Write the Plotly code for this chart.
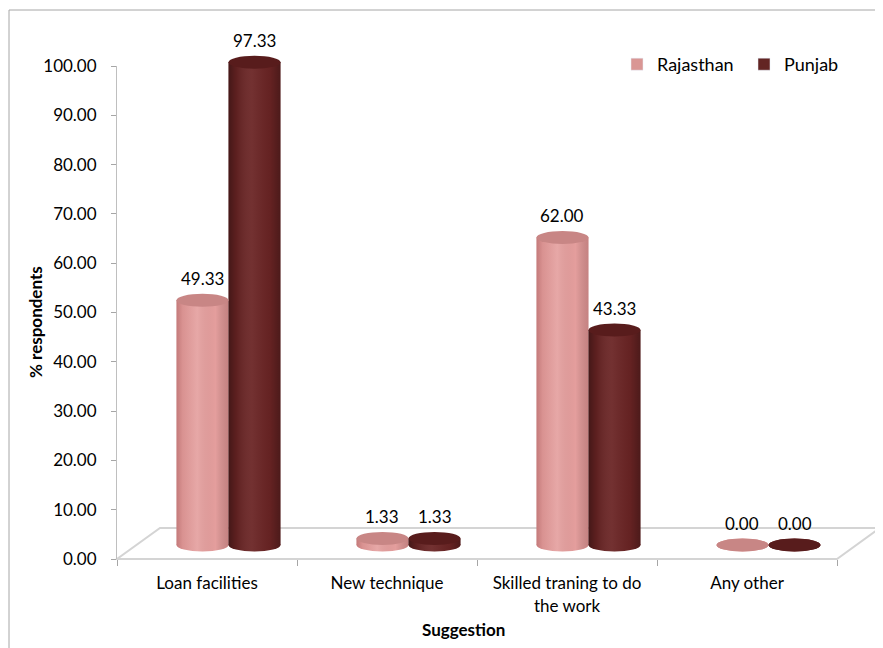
import math
import plotly.graph_objects as go

categories = ["Loan facilities", "New technique", "Skilled traning to do<br>the work", "Any other"]
series_names = ["Rajasthan", "Punjab"]
rajasthan = [49.33, 1.33, 62.00, 0.00]
punjab = [97.33, 1.33, 43.33, 0.00]
y_ticks = [0, 10, 20, 30, 40, 50, 60, 70, 80, 90, 100]

body_colors = ["#E49E9D", "#6A2424"]
top_colors = ["#C88685", "#581C1C"]
legend_colors = ["#D99694", "#632523"]
shade_scales = [
    [[0, "rgba(120,40,40,0.30)"], [0.12, "rgba(120,40,40,0.10)"], [0.4, "rgba(255,255,255,0.10)"],
     [0.75, "rgba(0,0,0,0.0)"], [1, "rgba(90,30,30,0.22)"]],
    [[0, "rgba(0,0,0,0.35)"], [0.15, "rgba(0,0,0,0.12)"], [0.45, "rgba(255,255,255,0.06)"],
     [0.8, "rgba(0,0,0,0.05)"], [1, "rgba(0,0,0,0.28)"]],
]

OFF = 8  # default page margin of the html body
W, H = 883 - OFF, 648 - OFF
# targets in screen pixels
SX_LEFT, SX_RIGHT, SY_TOP, SY_BOTTOM, SY_100 = 117, 837, 20, 559, 66
ML = SX_LEFT - OFF
MR = W - (SX_RIGHT - OFF)
MT = SY_TOP - OFF
MB = H - (SY_BOTTOM - OFF)
plot_w = SX_RIGHT - SX_LEFT
plot_h = SY_BOTTOM - SY_TOP
px_per_unit = 4.96
cat_px = plot_w / len(categories)
depth_dx, depth_dy = 43, 31
bar_shift_x = depth_dx / 2
bar_base_sy = SY_BOTTOM - 14
ydom_top = (SY_BOTTOM - SY_100) / plot_h


def px(sx):
    return (sx - SX_LEFT) / plot_w


def py(sy):
    return (SY_BOTTOM - sy) / plot_h


bar_w = 0.289
idx = list(range(len(categories)))
fig = go.Figure()

# invisible trace to build the category axis
fig.add_trace(go.Scatter(x=categories, y=[0] * len(categories), mode="markers",
                         marker=dict(opacity=0), showlegend=False, hoverinfo="skip",
                         xaxis="x", yaxis="y"))

shapes = []
annotations = []
half_e = 6.5 / px_per_unit
for s, (name, vals) in enumerate(zip(series_names, [rajasthan, punjab])):
    fig.add_trace(go.Bar(x=idx, y=vals, name=name, xaxis="x2", yaxis="y2",
                         marker=dict(color=body_colors[s], line=dict(width=0)),
                         width=bar_w, offset=(s - 1) * bar_w,
                         showlegend=False, hoverinfo="skip"))
    fig.add_trace(go.Bar(x=[None], y=[None], name=name, xaxis="x2", yaxis="y2",
                         marker=dict(color=legend_colors[s])))

for s, vals in enumerate([rajasthan, punjab]):
    for i, v in enumerate(vals):
        cx = i + (s - 0.5) * bar_w
        x0, x1 = cx - bar_w / 2, cx + bar_w / 2
        # bottom ellipse (under the bar)
        shapes.append(dict(type="circle", xref="x2", yref="y2", x0=x0, x1=x1,
                           y0=-half_e, y1=half_e, fillcolor=body_colors[s],
                           line=dict(width=0), layer="below"))
        # shading overlay: body + lower half of the base ellipse
        n = 30
        xs, ys = [], []
        for k in range(n + 1):
            t = math.pi * k / n
            xs.append(cx - bar_w / 2 * math.cos(t))
            ys.append(-half_e * math.sin(t))
        xs += [x1, x0, x0]
        ys += [v, v, 0]
        fig.add_trace(go.Scatter(x=xs, y=ys, mode="lines", line=dict(width=0),
                                 fill="toself",
                                 fillgradient=dict(type="horizontal", colorscale=shade_scales[s],
                                                   start=x0, stop=x1),
                                 xaxis="x2", yaxis="y2", showlegend=False, hoverinfo="skip"))
        # top ellipse
        shapes.append(dict(type="circle", xref="x2", yref="y2", x0=x0, x1=x1,
                           y0=v - half_e, y1=v + half_e, fillcolor=top_colors[s],
                           line=dict(width=0), layer="above"))
        annotations.append(dict(x=cx, y=v, xref="x2", yref="y2", text=f"{v:.2f}",
                                showarrow=False, yshift=22, xanchor="center", yanchor="middle",
                                font=dict(family="Lato", size=17, color="#000000")))

# floor (decorative parallelogram)
fx = depth_dx / plot_w
fy = depth_dy / plot_h
shapes.insert(0, dict(type="path", xref="paper", yref="paper",
                      path=f"M 0 0 L 1 0 L {1 + fx} {fy} L {fx} {fy} Z",
                      line=dict(color="#D4D4D4", width=2), fillcolor="rgba(0,0,0,0)",
                      layer="below"))
# chart border
shapes.insert(0, dict(type="rect", xref="paper", yref="paper",
                      x0=px(9), x1=px(900), y0=py(660), y1=py(10),
                      line=dict(color="#A6A6A6", width=1), fillcolor="rgba(0,0,0,0)",
                      layer="below"))

annotations.append(dict(x=px(35), y=py(322), xref="paper", yref="paper",
                        xanchor="center", yanchor="middle",
                        text="<b>% respondents</b>", textangle=-90, showarrow=False,
                        font=dict(family="Lato", size=17, color="#000000")))
annotations.append(dict(x=px(463), y=py(629), xref="paper", yref="paper",
                        xanchor="center", yanchor="middle",
                        text="<b>Suggestion</b>", showarrow=False,
                        font=dict(family="Lato", size=17, color="#000000")))

y2_low = -(SY_BOTTOM - bar_base_sy) / px_per_unit
y2_high = y2_low + plot_h / px_per_unit
x2_low = -0.5 - bar_shift_x / cat_px

fig.update_layout(
    width=W, height=H,
    margin=dict(l=ML, r=MR, t=MT, b=MB, autoexpand=False),
    paper_bgcolor="white", plot_bgcolor="rgba(0,0,0,0)",
    font=dict(family="Lato", size=17, color="#000000"),
    barmode="overlay",
    showlegend=True,
    legend=dict(orientation="h", x=px(617), y=py(46),
                xanchor="left", yanchor="top", font=dict(family="Lato", size=18),
                entrywidth=82, entrywidthmode="pixels",
                bgcolor="rgba(0,0,0,0)"),
    xaxis=dict(type="category", categoryorder="array", categoryarray=categories,
               range=[-0.5, len(categories) - 0.5], domain=[0, 1], anchor="y",
               showline=True, linecolor="#D4D4D4", linewidth=1,
               ticks="outside", tickson="boundaries", ticklen=6, tickcolor="#A6A6A6",
               ticklabelstandoff=9, automargin=False,
               showgrid=False, zeroline=False, fixedrange=True,
               tickfont=dict(family="Lato", size=17)),
    yaxis=dict(range=[0, 100], domain=[0, ydom_top], anchor="x",
               tickvals=y_ticks, tickformat=".2f",
               showline=True, linecolor="#BFBFBF", linewidth=1,
               ticks="outside", ticklen=5, tickcolor="#A6A6A6",
               ticklabelstandoff=11, automargin=False,
               showgrid=False, zeroline=False, fixedrange=True,
               tickfont=dict(family="Lato", size=17)),
    xaxis2=dict(range=[x2_low, x2_low + len(categories)], domain=[0, 1], anchor="y2",
                visible=False, fixedrange=True, automargin=False),
    yaxis2=dict(range=[y2_low, y2_high], domain=[0, 1], anchor="x2",
                visible=False, fixedrange=True, automargin=False),
    shapes=shapes,
    annotations=annotations,
)

fig.write_html("out.html")
